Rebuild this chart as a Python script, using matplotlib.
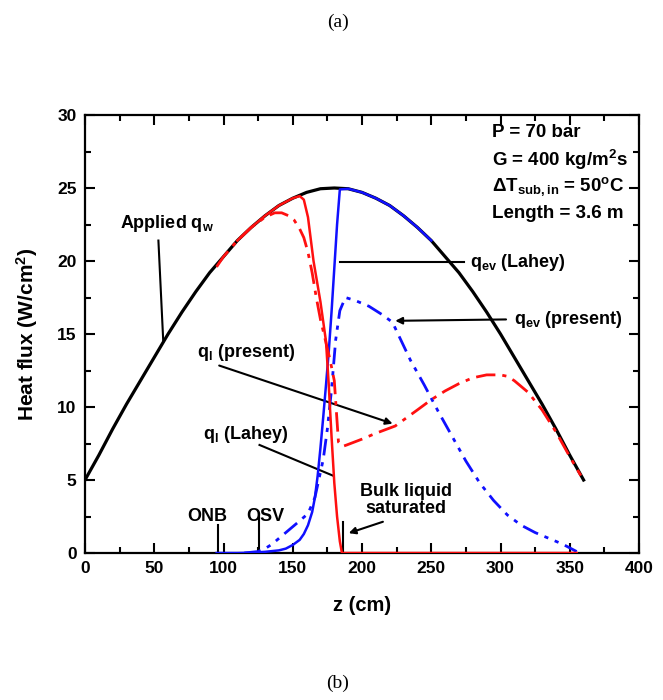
import matplotlib
matplotlib.use("Agg")
import matplotlib.pyplot as plt
from matplotlib import font_manager as fm

names = {f.name for f in fm.fontManager.ttflist}
FAM = "Liberation Sans Narrow" if "Liberation Sans Narrow" in names else "Liberation Sans"
plt.rcParams['font.family'] = [FAM, 'DejaVu Sans']
plt.rcParams['font.weight'] = 'bold'
plt.rcParams['mathtext.fontset'] = 'custom'
plt.rcParams['mathtext.rm'] = FAM + ':bold'
plt.rcParams['mathtext.bf'] = FAM + ':bold'
plt.rcParams['mathtext.it'] = FAM + ':bold'
plt.rcParams['mathtext.default'] = 'regular'

# ---------------- data ----------------
z_applied = [0, 10, 20, 30, 40, 50, 60, 70, 80, 90, 100, 110, 120, 130, 140, 150, 160, 170, 180,
             190, 200, 210, 220, 230, 240, 250, 260, 270, 280, 290, 300, 310, 320, 330, 340, 350, 360]
q_applied = [5.0, 6.7, 8.5, 10.2, 11.8, 13.4, 15.0, 16.5, 17.9, 19.2, 20.3, 21.4, 22.3, 23.1, 23.8,
             24.3, 24.7, 24.95, 25.0, 24.95, 24.7, 24.3, 23.8, 23.1, 22.3, 21.4, 20.3, 19.2, 17.9,
             16.5, 15.0, 13.4, 11.8, 10.2, 8.5, 6.7, 5.0]

z_ql_lahey = [110, 120, 130, 140, 150, 155, 158, 161, 165, 170, 174, 176, 178, 180, 182, 184, 185.5, 250, 355]
q_ql_lahey = [21.4, 22.3, 23.1, 23.8, 24.3, 24.45, 24.2, 23.0, 20.0, 17.2, 14.5, 11.5, 8.0, 4.8, 2.5, 0.8, 0.0, 0.0, 0.0]

z_ql_present = [95, 100, 110, 120, 130, 137, 142, 147, 151, 155, 158, 161, 164, 167, 170, 173, 177,
                180, 182, 183, 186, 189, 200, 210, 224, 240, 250, 260, 270, 280, 290, 300, 305, 310,
                320, 330, 340, 350, 358]
q_ql_present = [19.6, 20.3, 21.4, 22.3, 23.0, 23.3, 23.3, 23.1, 22.8, 22.2, 21.6, 20.6, 19.2, 17.5,
                16.0, 14.8, 13.2, 11.8, 9.0, 7.6, 7.3, 7.4, 7.8, 8.2, 8.7, 9.8, 10.5, 11.1, 11.6,
                12.0, 12.2, 12.2, 12.1, 11.8, 11.0, 9.8, 8.3, 6.6, 5.3]

z_qev_lahey = [95, 110, 120, 130, 140, 145, 150, 155, 158, 161, 164, 166, 168, 170, 172, 174, 176,
               178, 180, 182, 184, 190, 200, 210, 220, 230, 240, 250]
q_qev_lahey = [0.0, 0.0, 0.02, 0.08, 0.18, 0.3, 0.55, 0.9, 1.3, 1.9, 2.8, 3.8, 5.3, 7.2, 9.3, 11.5,
               13.8, 16.5, 19.5, 22.5, 24.9, 24.95, 24.7, 24.3, 23.8, 23.1, 22.3, 21.4]

z_qev_present = [115, 125, 130, 135, 140, 145, 150, 155, 161, 166, 172, 175, 178, 181, 184, 188,
                 195, 205, 215, 222, 227, 235, 245, 255, 265, 275, 285, 295, 305, 315, 325, 335, 345, 355]
q_qev_present = [0.0, 0.1, 0.3, 0.6, 1.0, 1.4, 1.8, 2.2, 2.7, 3.8, 6.4, 8.5, 11.2, 14.6, 16.6, 17.5,
                 17.3, 16.9, 16.3, 15.8, 14.8, 13.2, 11.5, 9.7, 8.0, 6.3, 4.8, 3.6, 2.6, 1.9, 1.4,
                 1.0, 0.6, 0.1]

x_ticks = [0, 50, 100, 150, 200, 250, 300, 350, 400]
y_ticks = [0, 5, 10, 15, 20, 25, 30]
marks = {"ONB": 96, "OSV": 125.5, "Bulk": 186}

# ---------------- figure ----------------
fig = plt.figure(figsize=(6.63, 7.0), dpi=100)
ax = fig.add_axes([85/663, 1-553/700, (639-85)/663, (553-115)/700])

ax.plot(z_applied, q_applied, color='black', lw=2.3, zorder=3)
ax.plot(z_qev_lahey, q_qev_lahey, color='#1010ff', lw=1.8, zorder=4)
ax.plot(z_qev_present, q_qev_present, color='#1010ff', lw=2.0, zorder=4,
        linestyle=(0, (6, 2.5, 1.5, 2.5, 1.5, 2.5)))
ax.plot(z_ql_lahey, q_ql_lahey, color='#ff1010', lw=1.8, zorder=5)
ax.plot(z_ql_present, q_ql_present, color='#ff1010', lw=2.0, zorder=5,
        linestyle=(0, (7, 2.5, 1.5, 2.5)))

ax.set_xlim(0, 400)
ax.set_ylim(0, 30)
ax.set_xticks(x_ticks)
ax.set_yticks(y_ticks)
ax.set_xticks([25, 75, 125, 175, 225, 275, 325, 375], minor=True)
ax.set_yticks([2.5, 7.5, 12.5, 17.5, 22.5, 27.5], minor=True)
ax.tick_params(which='both', direction='in', top=True, right=True, width=1.5)
ax.tick_params(which='major', length=7, labelsize=12.5, pad=6)
ax.tick_params(which='minor', length=4)
for lab in ax.get_xticklabels() + ax.get_yticklabels():
    lab.set_fontweight('bold')
for s in ax.spines.values():
    s.set_linewidth(1.6)

ax.set_xlabel('z (cm)', fontsize=14.5, fontweight='bold', labelpad=14)
ax.set_ylabel('Heat flux (W/cm$^2$)', fontsize=15, fontweight='bold', labelpad=12)

fs = 13
ax.text(25, 22.6, 'Applied q$_w$', fontsize=fs, fontweight='bold', ha='left', va='center')
ax.plot([53, 56.5], [21.4, 14.5], color='black', lw=1.5)

ax.text(278, 19.9, 'q$_{ev}$ (Lahey)', fontsize=fs, fontweight='bold', ha='left', va='center')
ax.plot([184, 274], [19.9, 19.9], color='black', lw=1.5)

ax.text(310, 16.0, 'q$_{ev}$ (present)', fontsize=fs, fontweight='bold', ha='left', va='center')
ax.annotate('', xy=(222, 15.9), xytext=(306, 16.0),
            arrowprops=dict(arrowstyle='-|>', color='black', lw=1.5, mutation_scale=10))

ax.text(81, 13.7, 'q$_l$ (present)', fontsize=fs, fontweight='bold', ha='left', va='center')
ax.annotate('', xy=(224, 8.8), xytext=(95, 12.9),
            arrowprops=dict(arrowstyle='-|>', color='black', lw=1.5, mutation_scale=10))

ax.text(85, 8.1, 'q$_l$ (Lahey)', fontsize=fs, fontweight='bold', ha='left', va='center')
ax.plot([126, 179], [7.4, 5.3], color='black', lw=1.5)

ax.text(88, 2.5, 'ONB', fontsize=fs, fontweight='bold', ha='center', va='center')
ax.text(130, 2.5, 'OSV', fontsize=fs, fontweight='bold', ha='center', va='center')
ax.plot([marks["ONB"]] * 2, [0, 1.9], color='black', lw=1.5)
ax.plot([marks["OSV"]] * 2, [0, 2.5], color='black', lw=1.5)
ax.plot([marks["Bulk"]] * 2, [0, 2.1], color='black', lw=1.5)
ax.text(232, 3.65, 'Bulk liquid\nsaturated', fontsize=fs, fontweight='bold', ha='center',
        va='center', linespacing=1.0)
ax.annotate('', xy=(188.5, 1.3), xytext=(217, 2.2),
            arrowprops=dict(arrowstyle='-|>', color='black', lw=1.5, mutation_scale=10))

params = ['P = 70 bar', 'G = 400 kg/m$^2$s', r'$\Delta$T$_{sub,in}$ = 50$^o$C', 'Length = 3.6 m']
for i, t in enumerate(params):
    ax.text(294, 28.8 - i * 1.85, t, fontsize=13.5, fontweight='bold', ha='left', va='center')

fig.text(338/663, 1 - 22/700, '(a)', fontsize=14, family='Liberation Serif', ha='center', va='center',
         fontweight='normal')
fig.text(338/663, 1 - 683/700, '(b)', fontsize=14, family='Liberation Serif', ha='center', va='center',
         fontweight='normal')

fig.savefig('out.png', dpi=100)
